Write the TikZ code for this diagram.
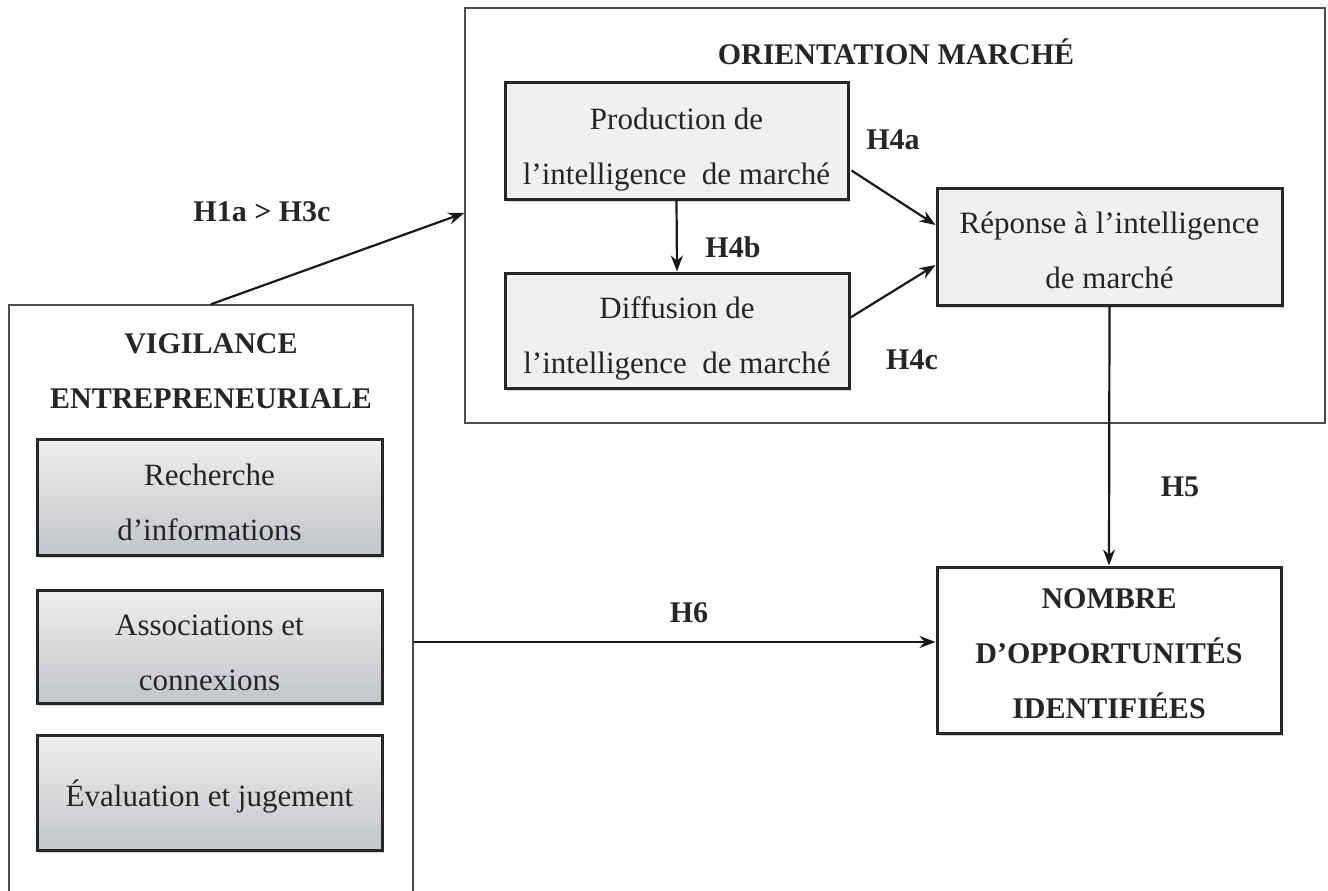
\documentclass[tikz,border=0pt]{standalone}
\usepackage{fontspec}
\setmainfont{Liberation Serif}
\usetikzlibrary{arrows.meta,shadows,calc}
\definecolor{gtop}{RGB}{238,238,238}
\definecolor{gbot}{RGB}{194,197,201}
\definecolor{ifill}{RGB}{240,240,240}
\definecolor{ink}{RGB}{38,38,38}
\begin{document}
\begin{tikzpicture}[x=1pt,y=1pt,
  txt/.style={font=\fontsize{31}{55}\selectfont, align=center, text=ink, inner sep=0pt},
  bold/.style={font=\fontsize{30}{55}\selectfont\bfseries, align=center, text=ink, inner sep=0pt},
  outer/.style={draw=black!70, line width=1.5pt, inner sep=0pt},
  shad/.style={drop shadow={shadow xshift=1.5pt, shadow yshift=-2.5pt, fill=black!35}},
  inbox/.style={draw=black!85, line width=3pt, fill=ifill, inner sep=0pt, shad},
  gbox/.style={draw=black!85, line width=3pt, top color=gtop, bottom color=gbot, inner sep=0pt, shad},
  nbox/.style={draw=black!85, line width=3pt, fill=white, inner sep=0pt, shad},
  arr/.style={-{Stealth[length=16pt,width=12pt]}, line width=2.2pt, draw=black!90}
]
\useasboundingbox (0,0) rectangle (1328,-891);
\fill[white] (0,0) rectangle (1328,-891);

% outer boxes
\node[outer, minimum width=404, minimum height=600] (vig) at (211,-605) {};
\node[outer, minimum width=860, minimum height=415] (ori) at (895,-215.5) {};

% titles
\node[bold] (orit) at (896,-52) {ORIENTATION MARCHÉ};
\node[bold] (vigt) at (211,-371) {VIGILANCE\\ENTREPRENEURIALE};

% orientation boxes
\node[inbox, minimum width=343, minimum height=116] (prod) at (676.5,-141) {};
\node[txt] (prodt) at ($(prod.center)+(0,-9)$) {Production de\\l’intelligence\ \ de marché};
\node[inbox, minimum width=344, minimum height=115] (diff) at (677,-330.5) {};
\node[txt] (difft) at ($(diff.center)+(0,-8)$) {Diffusion de\\l’intelligence\ \ de marché};
\node[inbox, minimum width=345, minimum height=117] (rep) at (1109.5,-246.5) {};
\node[txt] (rept) at ($(rep.center)+(0,-4)$) {Réponse à l’intelligence\\de marché};

% outcome box
\node[nbox, minimum width=344, minimum height=166] (nomb) at (1109,-650) {};
\node[bold] (nombt) at ($(nomb.center)+(0,-4)$) {NOMBRE\\D’OPPORTUNITÉS\\IDENTIFIÉES};

% vigilance boxes
\node[gbox, minimum width=345, minimum height=116] (g1) at (209.5,-497) {};
\node[txt] (g1t) at ($(g1.center)+(0,-5)$) {Recherche\\d’informations};
\node[gbox, minimum width=345, minimum height=113] (g2) at (209.5,-646.5) {};
\node[txt] (g2t) at ($(g2.center)+(0,-6)$) {Associations et\\connexions};
\node[gbox, minimum width=345, minimum height=115] (g3) at (209.5,-792.5) {};
\node[txt] (g3t) at ($(g3.center)+(0,-4)$) {Évaluation et jugement};

% connectors
\draw[arr] (vig.north) -- (ori.west |- 0,-213);
\draw[arr] (prod.south) -- (diff.north);
\draw[arr] ($(prod.south east)+(2,30)$) -- ($(rep.west)+(0,21.5)$);
\draw[arr] ($(diff.east)+(0,13)$) -- ($(rep.west)+(0,-18.5)$);
\draw[arr] (rep.south) -- (nomb.north);
\draw[arr] (vig.east |- 0,-642) -- (nomb.west |- 0,-642);

% labels
\node[bold] (l1) at (262,-212) {H1a > H3c};
\node[bold] (l4a) at (893,-140) {H4a};
\node[bold] (l4b) at (733,-247) {H4b};
\node[bold] (l4c) at (912,-360) {H4c};
\node[bold] (l5) at (1180,-487) {H5};
\node[bold] (l6) at (689,-613) {H6};
\end{tikzpicture}
\end{document}
